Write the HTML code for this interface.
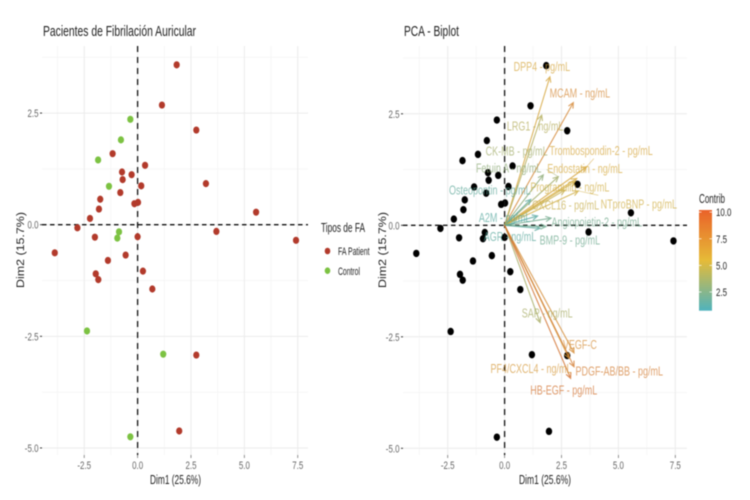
<!DOCTYPE html>
<html lang="es">
<head>
<meta charset="utf-8">
<title>PCA Fibrilación Auricular</title>
<style>
html,body{margin:0;padding:0;background:#fff;width:750px;height:500px;overflow:hidden}
svg{display:block;filter:blur(0.4px);font-family:"Liberation Sans",sans-serif}
</style>
</head>
<body>
<svg id="chart" width="750" height="500" viewBox="0 0 750 500" xmlns="http://www.w3.org/2000/svg">
<defs>
<linearGradient id="contrib-gradient" x1="0" y1="1" x2="0" y2="0">
<stop offset="0" stop-color="#4fb3bd"/>
<stop offset="0.5" stop-color="#e6bb38"/>
<stop offset="1" stop-color="#ea6229"/>
</linearGradient>
</defs>
<rect width="750" height="500" fill="#fff"/>
<g id="left-panel"></g>
<g id="right-panel"></g>
<text x="43" y="36" font-size="15" fill="#222" textLength="153" lengthAdjust="spacingAndGlyphs">Pacientes de Fibrilación Auricular</text>
<text x="404" y="36" font-size="15" fill="#222" textLength="55" lengthAdjust="spacingAndGlyphs">PCA - Biplot</text>
<text x="150" y="484" font-size="12.5" fill="#222" textLength="51" lengthAdjust="spacingAndGlyphs">Dim1 (25.6%)</text>
<text x="519" y="484" font-size="12.5" fill="#222" textLength="52" lengthAdjust="spacingAndGlyphs">Dim1 (25.6%)</text>
<text transform="translate(24,288) rotate(-90)" font-size="11" fill="#222" textLength="76" lengthAdjust="spacingAndGlyphs">Dim2 (15.7%)</text>
<text transform="translate(386,288) rotate(-90)" font-size="11" fill="#222" textLength="76" lengthAdjust="spacingAndGlyphs">Dim2 (15.7%)</text>
<g>
<text x="321" y="232" font-size="13" fill="#222" textLength="44" lengthAdjust="spacingAndGlyphs">Tipos de FA</text>
<ellipse cx="327.5" cy="251" rx="2.8" ry="3.3" fill="#b23a2b"/>
<text x="338" y="255" font-size="11" fill="#222" textLength="31.5" lengthAdjust="spacingAndGlyphs">FA Patient</text>
<ellipse cx="327.5" cy="270.7" rx="2.8" ry="3.3" fill="#7cc242"/>
<text x="338" y="275" font-size="11" fill="#222" textLength="22" lengthAdjust="spacingAndGlyphs">Control</text>
</g>
<g id="colorbar">
<text x="699" y="203" font-size="13" fill="#222" textLength="26" lengthAdjust="spacingAndGlyphs">Contrib</text>
<rect x="699" y="210" width="13" height="100.7" fill="url(#contrib-gradient)"/>
</g>
</svg>
<script>
// Individuals: PCA scores
const scoreDim1 = [1.83,1.14,2.75,-1.17,0.35,-0.73,-0.28,-0.70,0.17,3.20,-0.81,-1.75,-0.15,0.02,-1.81,-2.23,5.55,-2.82,3.69,-2.00,0.00,7.42,-3.88,-1.39,-0.56,0.25,-1.96,-1.84,0.69,2.75,1.95,-0.34,-0.78,-1.85,-1.34,-0.87,-0.95,-2.37,1.20,-0.34];
const scoreDim2 = [3.58,2.68,2.12,1.59,1.33,1.18,1.12,1.01,0.87,0.92,0.72,0.57,0.47,0.50,0.35,0.14,0.28,-0.07,-0.15,-0.28,-0.27,-0.35,-0.63,-0.80,-0.68,-1.04,-1.10,-1.23,-1.44,-2.92,-4.62,2.36,1.90,1.45,0.86,-0.16,-0.30,-2.38,-2.90,-4.75];
const scoreGroup = ["FA","FA","FA","FA","FA","FA","FA","FA","FA","FA","FA","FA","FA","FA","FA","FA","FA","FA","FA","FA","FA","FA","FA","FA","FA","FA","FA","FA","FA","FA","FA","Control","Control","Control","Control","Control","Control","Control","Control","Control"];

// Variables: loadings, contributions and label anchors (all in data units)
const varNames = ["DPP4 - pg/mL","MCAM - ng/mL","LRG1 - ng/mL","CK-MB - pg/mL","Trombospondin-2 - pg/mL","Fetuin A - ng/mL","Endostatin - ng/mL","Progranulin - ng/mL","Osteopontin - pg/mL","CXCL16 - pg/mL","NTproBNP - pg/mL","A2M - ng/mL","Angiopoietin-2 - pg/mL","AGR - ng/mL","BMP-9 - pg/mL","SAP - ng/mL","VEGF-C","PF4/CXCL4 - ng/mL","PDGF-AB/BB - pg/mL","HB-EGF - pg/mL"];
const varDim1 = [1.99,3.02,1.63,2.36,3.60,1.70,3.17,3.09,1.15,2.65,3.24,1.45,2.04,1.56,1.82,1.56,3.05,2.83,3.05,2.90];
const varDim2 = [3.33,2.75,2.47,1.09,1.31,1.13,1.05,0.98,0.58,0.79,0.77,0.21,0.16,-0.07,-0.03,-2.18,-2.86,-2.98,-3.17,-3.43];
const varContrib = [5.9,7.6,4.3,3.7,5.9,3.1,5.6,5.2,1.6,4.9,5.2,1.4,2.2,1.5,2.1,3.9,7.4,6.7,8.2,8.9];
const labelDim1 = [1.64,3.31,1.34,0.53,4.24,0.18,3.53,2.87,-0.65,2.68,5.90,0.00,4.05,0.24,2.87,1.87,3.31,1.16,5.04,2.60];
const labelDim2 = [3.56,2.97,2.23,1.67,1.68,1.28,1.27,0.86,0.79,0.46,0.48,0.18,0.07,-0.25,-0.33,-1.97,-2.67,-3.21,-3.27,-3.69];
const connectorShare = [0,0,0,0.28,0.5,0,0,0,0,0,0.33,0,0,0,0,0,0,0,0,0];

// Axes
const tickDim1 = [-2.5,0,2.5,5,7.5];
const tickDim2 = [2.5,0,-2.5,-5];
const tickLabelsDim1 = ["-2.5","0.0","2.5","5.0","7.5"];
const tickLabelsDim2 = ["2.5","0.0","-2.5","-5.0"];
const minorDim1 = [-3.75,-1.25,1.25,3.75,6.25];
const minorDim2 = [3.75,1.25,-1.25,-3.75];
const colorbarTicks = [10,7.5,5,2.5];
const colorbarLabels = ["10.0","7.5","5.0","2.5"];

const NS = "http://www.w3.org/2000/svg";
function mk(tag, attrs, parent, txt){
  const el = document.createElementNS(NS, tag);
  for (const k in attrs) el.setAttribute(k, attrs[k]);
  if (txt !== undefined) el.textContent = txt;
  parent.appendChild(el);
  return el;
}
function squeeze(el, k){
  const w = el.getComputedTextLength();
  el.setAttribute("textLength", (w * k).toFixed(1));
  el.setAttribute("lengthAdjust", "spacingAndGlyphs");
}
function mixHex(a, b, t){
  const p = h => [1,3,5].map(i => parseInt(h.substr(i,2),16));
  const A = p(a), B = p(b);
  return "rgb(" + A.map((v,i) => Math.round(v + (B[i]-v)*t)).join(",") + ")";
}
function contribColor(v){
  return v < 5.4 ? mixHex("#3fa5ad","#d6ad3c",Math.max(0,(v-0.75)/4.65))
                 : mixHex("#d6ad3c","#cf5a26",Math.min(1,(v-5.4)/4.6));
}

function drawFrame(g, o){
  const sx = v => o.x0 + v * o.ux, sy = v => o.y0 - v * o.uy;
  minorDim1.forEach(v => {
    const l = mk("line",{x1:sx(v),x2:sx(v),y1:o.top,y2:o.bottom,stroke:"#f2f2f2","stroke-width":0.6},g);
    
    
  });
  minorDim2.forEach(v => {
    const l = mk("line",{x1:o.left,x2:o.right,y1:sy(v),y2:sy(v),stroke:"#f2f2f2","stroke-width":0.6},g);
    
    
  });
  tickDim1.forEach((v,i) => {
    const l = mk("line",{x1:sx(v),x2:sx(v),y1:o.top,y2:o.bottom,stroke:"#ebebeb","stroke-width":1},g);
    
    
    const t = mk("line",{x1:sx(v),x2:sx(v),y1:o.bottom,y2:o.bottom+3,stroke:"#777","stroke-width":0.8},g);
    
    
    const lb = mk("text",{x:sx(v),y:469,"font-size":11,fill:"#666","text-anchor":"middle"},g,tickLabelsDim1[i]);
    
    
    squeeze(lb,0.72);
  });
  tickDim2.forEach((v,i) => {
    const l = mk("line",{x1:o.left,x2:o.right,y1:sy(v),y2:sy(v),stroke:"#ebebeb","stroke-width":1},g);
    
    
    const t = mk("line",{x1:o.left-2,x2:o.left,y1:sy(v),y2:sy(v),stroke:"#333","stroke-width":1},g);
    
    
    const lb = mk("text",{x:o.left-3.5,y:sy(v)+4,"font-size":11,fill:"#666","text-anchor":"end"},g,tickLabelsDim2[i]);
    
    
    squeeze(lb,0.72);
  });
}
function drawRefLines(g, o){
  const h = mk("line",{x1:o.left,x2:o.right,y1:o.y0,y2:o.y0,stroke:"#111","stroke-width":1.3,"stroke-dasharray":"4.5 3.5"},g);
  
  
  const v = mk("line",{x1:o.x0,x2:o.x0,y1:o.top,y2:o.bottom,stroke:"#111","stroke-width":1.3,"stroke-dasharray":"6 5"},g);
  
  
}

// Left panel
const L = {left:42,right:308,top:46,bottom:455,x0:137.6,y0:224.7,ux:21.35,uy:44.65};
const leftG = document.getElementById("left-panel");
drawFrame(leftG, L);
drawRefLines(leftG, L);
scoreDim1.forEach((d,i) => {
  const c = mk("ellipse",{cx:L.x0+d*L.ux,cy:L.y0-scoreDim2[i]*L.uy,rx:3.1,ry:3.6,fill:scoreGroup[i]==="FA"?"#b23a2b":"#7cc242"},leftG);
  
  
});

// Right panel
const R = {left:403,right:687,top:46,bottom:455,x0:504.6,y0:225.3,ux:22.76,uy:44.6};
const rightG = document.getElementById("right-panel");
drawFrame(rightG, R);
scoreDim1.forEach((d,i) => {
  const c = mk("ellipse",{cx:R.x0+d*R.ux,cy:R.y0-scoreDim2[i]*R.uy,rx:3.2,ry:3.7,fill:"#000"},rightG);
  
  
});
drawRefLines(rightG, R);
varNames.forEach((name,i) => {
  const col = contribColor(varContrib[i]);
  const tx = R.x0 + varDim1[i]*R.ux, ty = R.y0 - varDim2[i]*R.uy;
  const a = Math.atan2(ty-R.y0, tx-R.x0), hl = 6, sp = 0.45;
  const arrow = mk("path",{
    d:"M"+R.x0+" "+R.y0+"L"+tx+" "+ty+
      "M"+(tx-hl*Math.cos(a-sp))+" "+(ty-hl*Math.sin(a-sp))+"L"+tx+" "+ty+"L"+(tx-hl*Math.cos(a+sp))+" "+(ty-hl*Math.sin(a+sp)),
    fill:"none",stroke:col,"stroke-width":1.1,opacity:0.8},rightG);
  
  
});
varNames.forEach((name,i) => {
  const col = contribColor(varContrib[i]);
  const tx = R.x0 + varDim1[i]*R.ux, ty = R.y0 - varDim2[i]*R.uy;
  const lx = R.x0 + labelDim1[i]*R.ux, ly = R.y0 - labelDim2[i]*R.uy;
  if (connectorShare[i] > 0){
    const s = connectorShare[i];
    const seg = mk("line",{x1:tx,y1:ty,x2:tx+(lx-tx)*s,y2:ty+(ly-ty)*s,stroke:col,"stroke-width":0.7,opacity:0.6},rightG);
    
    
  }
  const t = mk("text",{x:lx,y:ly+4.5,"font-size":12.5,fill:col,opacity:0.7,"text-anchor":"middle"},rightG,name);
  
  
  squeeze(t,0.72);
});

// Colorbar
const cbG = document.getElementById("colorbar");
const cbY = v => 292 - (v-2.5)*10.65;
colorbarTicks.forEach((v,i) => {
  const a = mk("line",{x1:699,x2:701.5,y1:cbY(v),y2:cbY(v),stroke:"#fff","stroke-width":0.7},cbG);
  
  
  const b = mk("line",{x1:709.5,x2:712,y1:cbY(v),y2:cbY(v),stroke:"#fff","stroke-width":0.7},cbG);
  
  
  const t = mk("text",{x:716,y:cbY(v)+4,"font-size":11,fill:"#222"},cbG,colorbarLabels[i]);
  
  
  squeeze(t,0.72);
});
</script>
</body>
</html>
